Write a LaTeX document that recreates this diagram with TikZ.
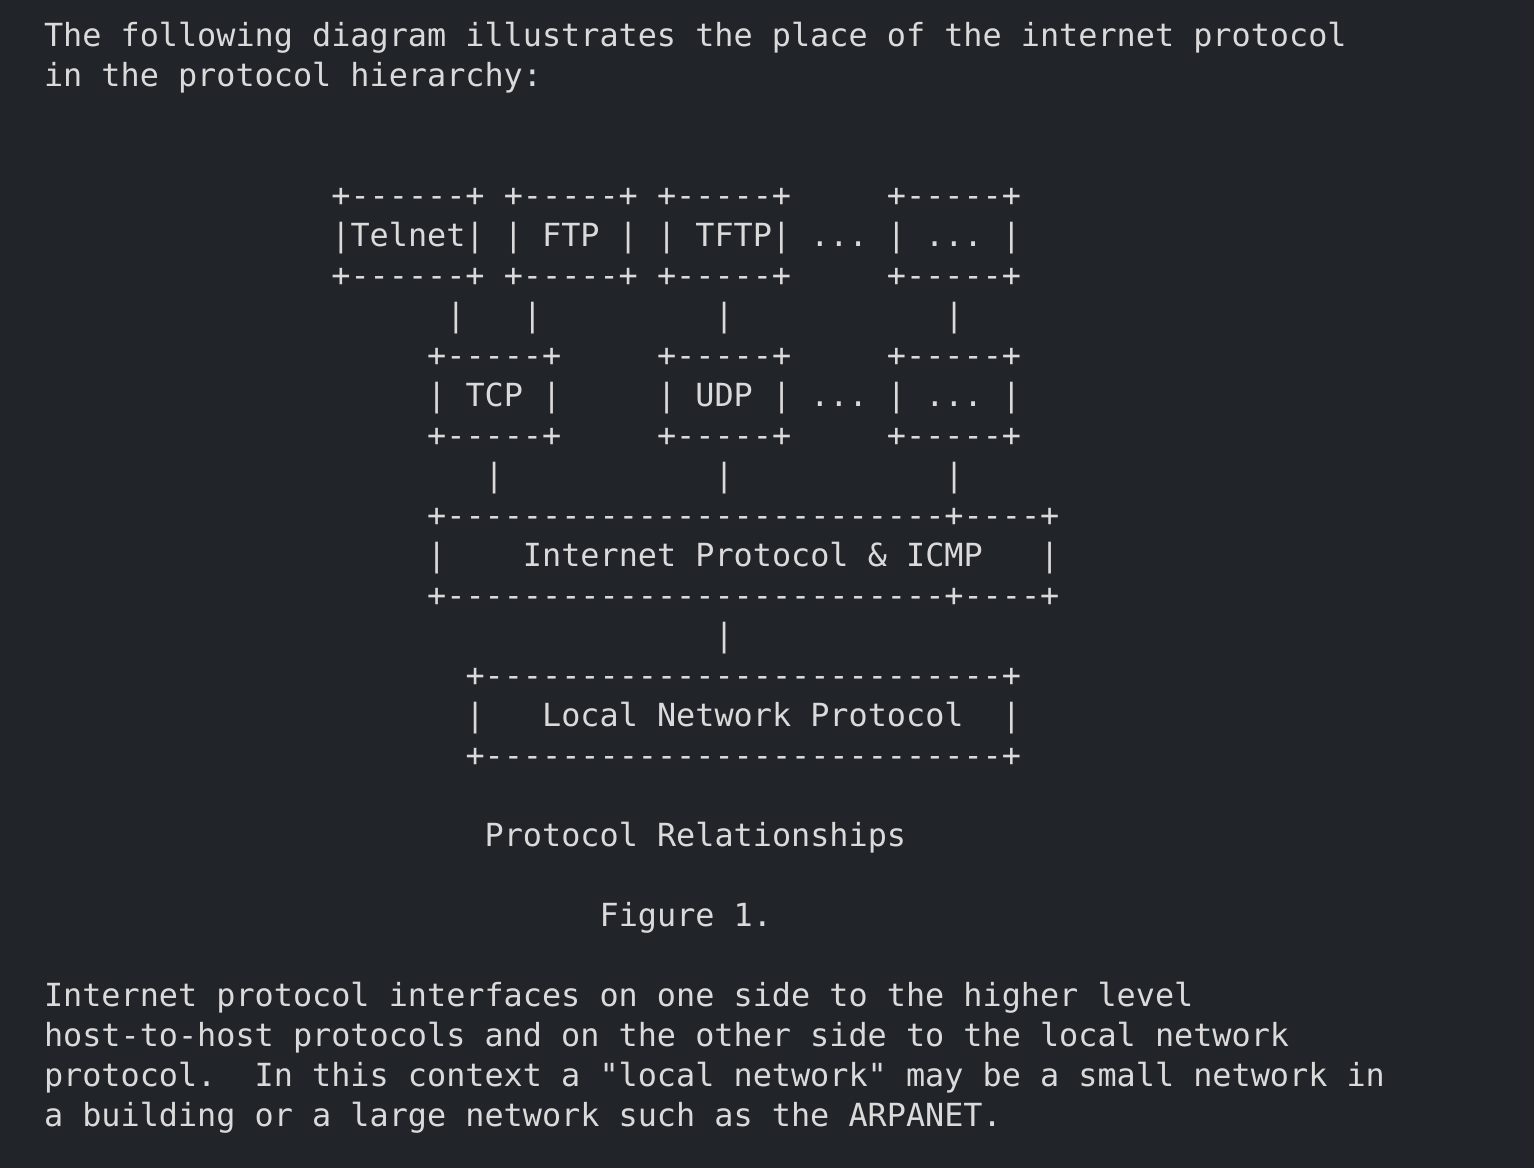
\documentclass[tikz,border=0pt]{standalone}
\usepackage{fontspec}
\setmonofont{DejaVu Sans Mono}
\definecolor{bgc}{RGB}{33,36,41}
\definecolor{txt}{RGB}{218,218,218}
\frenchspacing
\begin{document}
\begin{tikzpicture}[x=1pt,y=1pt,
  ln/.style={anchor=base west,inner sep=0pt,outer sep=0pt,text=txt,
    font=\ttfamily\fontsize{31.82}{40}\selectfont}]
\fill[bgc] (0,0) rectangle (1534,-1168);
\useasboundingbox (0,0) rectangle (1534,-1168);
\newcommand\Ln[4]{\node[ln] (#1) at ({44+19.16*#2},{-(46.5+40*#3)}) {#4};}
\Ln{l0}{0}{0}{The following diagram illustrates the place of the internet protocol}
\Ln{l1}{0}{1}{in the protocol hierarchy:}
\Ln{l4}{15}{4}{+------+~+-----+~+-----+~~~~~+-----+}
\Ln{l5}{15}{5}{|Telnet|~|~FTP~|~|~TFTP|~...~|~...~|}
\Ln{l6}{15}{6}{+------+~+-----+~+-----+~~~~~+-----+}
\Ln{l7a}{21}{7}{|~~~|}
\Ln{l7b}{35}{7}{|}
\Ln{l7c}{47}{7}{|}
\Ln{l8}{20}{8}{+-----+~~~~~+-----+~~~~~+-----+}
\Ln{l9}{20}{9}{|~TCP~|~~~~~|~UDP~|~...~|~...~|}
\Ln{l10}{20}{10}{+-----+~~~~~+-----+~~~~~+-----+}
\Ln{l11a}{23}{11}{|}
\Ln{l11b}{35}{11}{|}
\Ln{l11c}{47}{11}{|}
\Ln{l12}{20}{12}{+--------------------------+----+}
\Ln{l13}{20}{13}{|~~~~Internet Protocol \& ICMP~~~|}
\Ln{l14}{20}{14}{+--------------------------+----+}
\Ln{l15}{35}{15}{|}
\Ln{l16}{22}{16}{+---------------------------+}
\Ln{l17}{22}{17}{|~~~Local Network Protocol~~|}
\Ln{l18}{22}{18}{+---------------------------+}
\Ln{l20}{23}{20}{Protocol Relationships}
\Ln{l22}{29}{22}{Figure 1.}
\Ln{l24}{0}{24}{Internet protocol interfaces on one side to the higher level}
\Ln{l25}{0}{25}{host-to-host protocols and on the other side to the local network}
\Ln{l26}{0}{26}{protocol.~~In this context a "local network" may be a small network in}
\Ln{l27}{0}{27}{a building or a large network such as the ARPANET.}
\end{tikzpicture}
\end{document}
